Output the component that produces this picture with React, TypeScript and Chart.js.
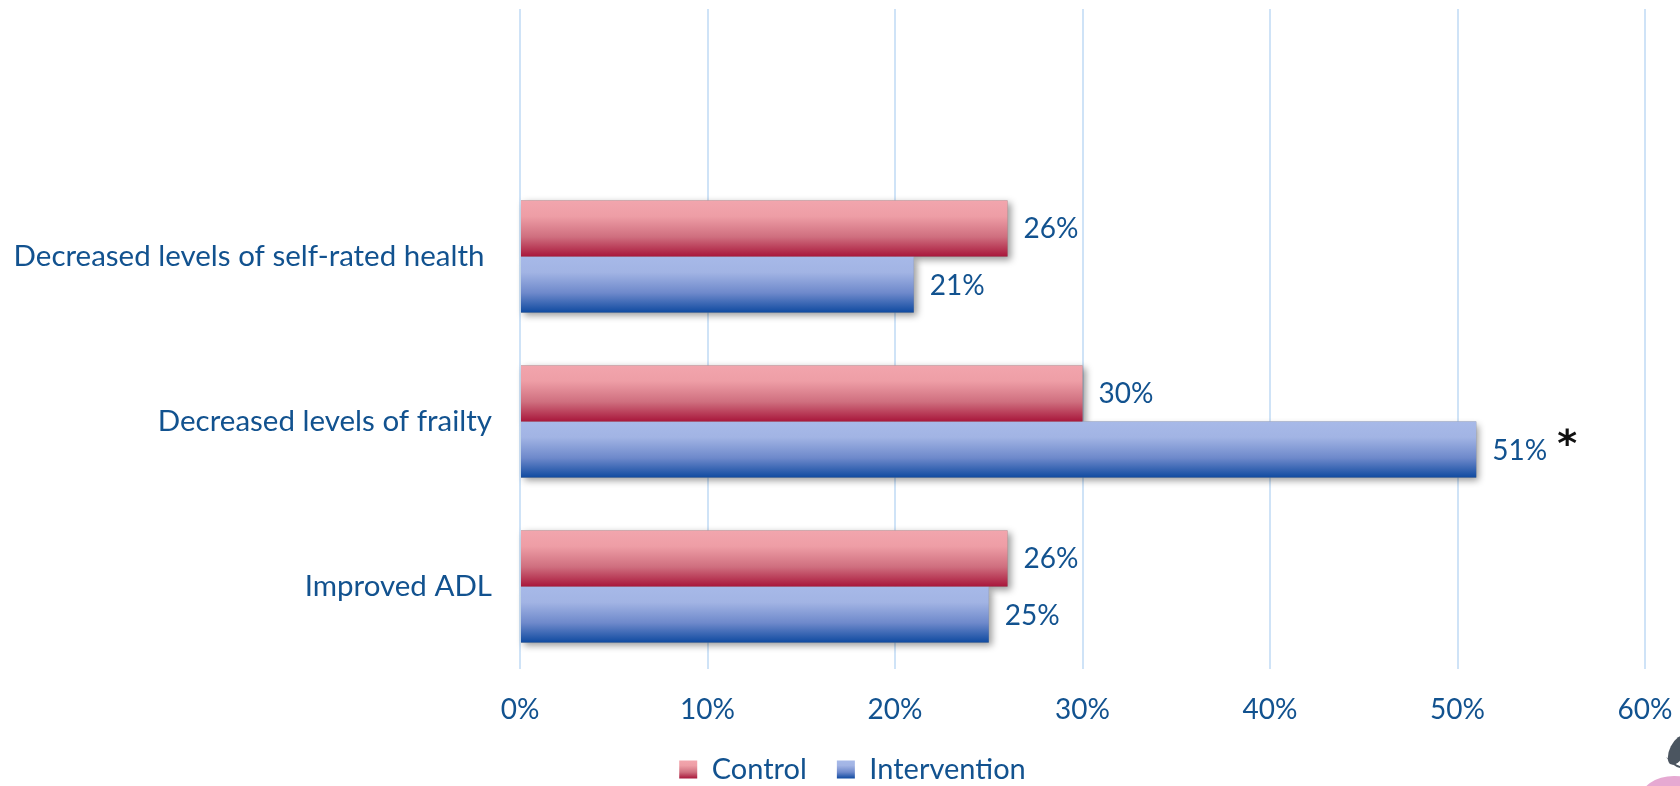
import React, { useEffect, useRef } from "react";
import { Chart, registerables } from "chart.js";

Chart.register(...registerables);

// ---- data ----
const categories = ["", "Decreased levels of self-rated health ", "Decreased levels of frailty", "Improved ADL"];
const seriesNames = ["Control", "Intervention"];
const controlValues: (number | null)[] = [null, 26, 30, 26];
const interventionValues: (number | null)[] = [null, 21, 51, 25];
const interventionMarks = ["", "", "*", ""];
const xTickValues = [0, 10, 20, 30, 40, 50, 60];
const xTickLabels = ["0%", "10%", "20%", "30%", "40%", "50%", "60%"];

// ---- style ----
const FONT = "Lato, 'Open Sans', sans-serif";
const TEXT = "#12528F";
const GRID = "#CFE3F7";
const LEGEND_SIZE = 29;
const LEGEND_BOX = 18;
const palettes = [
  ["#F2A5AD", "#EE9EA6", "#CF6F7F", "#A8173B"],
  ["#A7B9E8", "#A2B4E4", "#6E89CB", "#0F4AA0"],
];

function barGradient(ctx: CanvasRenderingContext2D, top: number, h: number, p: string[]) {
  const g = ctx.createLinearGradient(0, top, 0, top + h);
  g.addColorStop(0, p[0]);
  g.addColorStop(0.28, p[1]);
  g.addColorStop(0.65, p[2]);
  g.addColorStop(1, p[3]);
  return g;
}

const barStylePlugin = {
  id: "barStyle",
  afterLayout(chart: any) {
    const lg = chart.legend;
    if (lg) {
      lg.left += 30;
      lg.right += 30;
    }
  },
  beforeDatasetsDraw(chart: any) {
    const ctx = chart.ctx as CanvasRenderingContext2D;
    ctx.save();
    ctx.shadowColor = "rgba(0,0,0,0.4)";
    ctx.shadowBlur = 7;
    ctx.shadowOffsetX = 3;
    ctx.shadowOffsetY = 3;
    chart.data.datasets.forEach((_: any, di: number) => {
      const meta = chart.getDatasetMeta(di);
      meta.data.forEach((el: any, i: number) => {
        const v = chart.data.datasets[di].data[i];
        if (v == null) return;
        const top = el.y - el.height / 2;
        ctx.fillStyle = "#888";
        ctx.fillRect(Math.min(el.base, el.x), top, Math.abs(el.x - el.base), el.height);
      });
    });
    ctx.restore();
  },
  beforeDatasetDraw(chart: any, args: any) {
    const ctx = chart.ctx as CanvasRenderingContext2D;
    const p = palettes[args.index];
    args.meta.data.forEach((el: any) => {
      const top = el.y - el.height / 2;
      el.options = Object.assign({}, el.options, { backgroundColor: barGradient(ctx, top, el.height, p) });
    });
  },
  afterDatasetsDraw(chart: any) {
    const ctx = chart.ctx as CanvasRenderingContext2D;
    ctx.save();
    chart.data.datasets.forEach((ds: any, di: number) => {
      const meta = chart.getDatasetMeta(di);
      meta.data.forEach((el: any, i: number) => {
        const v = ds.data[i];
        if (v == null) return;
        const label = v + "%";
        ctx.textBaseline = "middle";
        ctx.textAlign = "left";
        ctx.font = `28px ${FONT}`;
        ctx.fillStyle = TEXT;
        const x = el.x + 16;
        ctx.fillText(label, x, el.y + 1);
        const mark = di === 1 ? interventionMarks[i] : "";
        if (mark) {
          const w = ctx.measureText(label).width;
          ctx.font = `bold 38px 'DejaVu Sans', ${FONT}`;
          ctx.fillStyle = "#111";
          ctx.textBaseline = "alphabetic";
          const m = ctx.measureText(mark);
          const asc = m.actualBoundingBoxAscent;
          const desc = m.actualBoundingBoxDescent;
          const cy = el.y - 13;
          ctx.fillText(mark, x + w + 10 + m.actualBoundingBoxLeft, cy + (asc - desc) / 2);
        }
      });
    });
    ctx.restore();
  },
  beforeDraw(chart: any) {
    const lg = chart.legend;
    if (!lg || !lg.legendItems || !lg.legendHitBoxes) return;
    const ctx = chart.ctx as CanvasRenderingContext2D;
    lg.legendItems.forEach((item: any, i: number) => {
      const hb = lg.legendHitBoxes[i];
      if (!hb) return;
      const top = hb.top + Math.max((LEGEND_SIZE - LEGEND_BOX) / 2, 0);
      item.fillStyle = barGradient(ctx, top, LEGEND_BOX, palettes[item.datasetIndex]);
      item.lineWidth = 0;
      item.strokeStyle = "rgba(0,0,0,0)";
    });
  },
  afterDraw(chart: any) {
    // small decorative logo fragment in the bottom-right corner
    const ctx = chart.ctx as CanvasRenderingContext2D;
    const W = chart.width;
    const H = chart.height;
    ctx.save();
    ctx.fillStyle = "#E6A9D2";
    ctx.beginPath();
    ctx.ellipse(W - 6, H + 14, 34, 24, 0, 0, Math.PI * 2);
    ctx.fill();
    ctx.fillStyle = "#4B5560";
    ctx.beginPath();
    ctx.ellipse(W - 2, H - 36, 16, 8, -1.1, 0, Math.PI * 2);
    ctx.fill();
    ctx.beginPath();
    ctx.moveTo(W - 14, H - 29);
    ctx.quadraticCurveTo(W - 6, H - 22, W, H - 20);
    ctx.lineTo(W, H - 18);
    ctx.quadraticCurveTo(W - 8, H - 20, W - 14, H - 29);
    ctx.fill();
    ctx.restore();
  },
};

export default function App() {
  const ref = useRef<HTMLCanvasElement | null>(null);
  useEffect(() => {
    if (!ref.current) return;
    const chart = new Chart(ref.current, {
      type: "bar",
      data: {
        labels: categories,
        datasets: [
          { label: seriesNames[0], data: controlValues, backgroundColor: palettes[0][3], borderWidth: 0 },
          { label: seriesNames[1], data: interventionValues, backgroundColor: palettes[1][3], borderWidth: 0 },
        ],
      },
      options: {
        indexAxis: "y",
        animation: false,
        responsive: true,
        maintainAspectRatio: false,
        categoryPercentage: 0.68,
        barPercentage: 1.0,
        layout: { padding: { top: 9, right: 35, bottom: -8, left: 0 } },
        plugins: {
          legend: {
            position: "bottom",
            labels: {
              font: { family: FONT, size: LEGEND_SIZE },
              color: TEXT,
              boxWidth: LEGEND_BOX,
              boxHeight: LEGEND_BOX,
              padding: 30,
            },
          },
          tooltip: { enabled: false },
        },
        scales: {
          x: {
            min: 0,
            max: 60,
            afterBuildTicks: (s: any) => {
              s.ticks = xTickValues.map((v) => ({ value: v }));
            },
            afterFit: (s: any) => {
              s.height = 56;
              s.paddingLeft = 0;
              s.paddingRight = 0;
            },
            ticks: {
              callback: (_v: any, i: number) => xTickLabels[i],
              font: { family: FONT, size: 28 },
              color: TEXT,
              padding: 24,
            },
            grid: { color: GRID, lineWidth: 2, drawTicks: false },
            border: { display: false },
          },
          y: {
            afterFit: (s: any) => {
              s.width = 520;
              s.paddingTop = 0;
              s.paddingBottom = 0;
            },
            ticks: {
              font: { family: FONT, size: 29.5 },
              color: TEXT,
              padding: 28,
            },
            grid: { display: false, drawTicks: false },
            border: { display: false },
          },
        },
      },
      plugins: [barStylePlugin],
    });
    return () => chart.destroy();
  }, []);
  return (
    <div style={{ position: "fixed", left: 0, top: 0, width: 1680, height: 786, background: "#fff" }}>
      <canvas ref={ref} />
    </div>
  );
}
